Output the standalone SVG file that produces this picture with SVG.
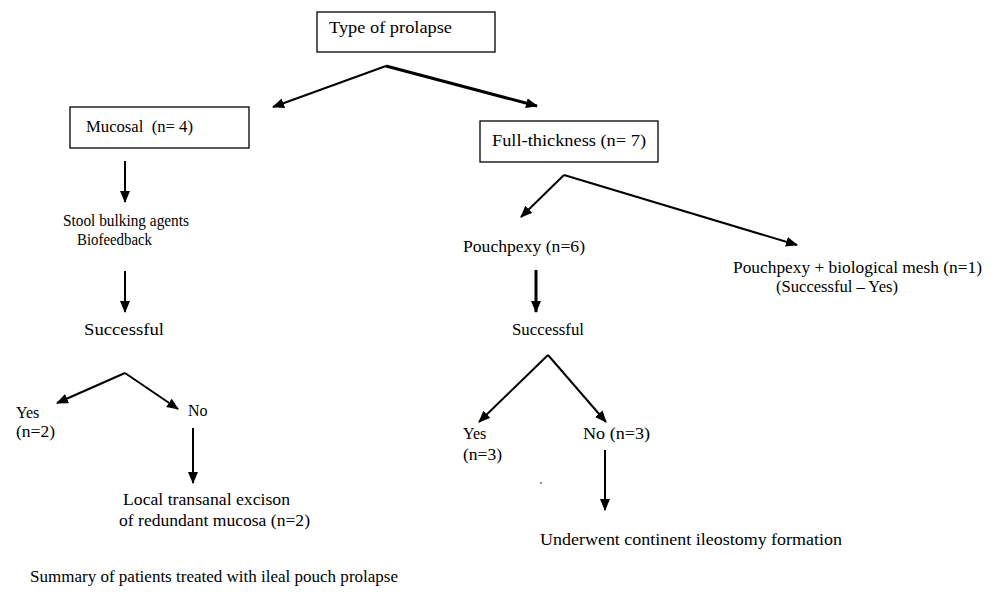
<svg xmlns="http://www.w3.org/2000/svg" width="1005" height="592" viewBox="0 0 1005 592">
<style>
text{font-family:"Liberation Serif","Times New Roman",serif;font-size:16px;fill:#000}
.box{fill:#fff;stroke:#000;stroke-width:1.3}
.c{stroke:#000;stroke-width:2;fill:none;marker-end:url(#ah)}
.ct{stroke:#000;stroke-width:3;fill:none;marker-end:url(#ah)}
</style>
<defs>
<marker id="ah" markerUnits="userSpaceOnUse" markerWidth="14" markerHeight="12" refX="11" refY="5" orient="auto">
<path d="M0,0 L12,5 L0,10 Z" fill="#000"/>
</marker>
</defs>
<rect width="1005" height="592" fill="#fff"/>
<g id="connectors">
<path class="c" d="M386,66 L273,107"/>
<path class="ct" d="M386,66 L537,106"/>
<path class="c" d="M125,161 L125,202"/>
<path class="c" d="M125,271 L125,312"/>
<path class="c" d="M125,373 L57,403"/>
<path class="c" d="M125,373 L178,409"/>
<path class="c" d="M193,428 L193,483"/>
<path class="c" d="M564,175 L521,217"/>
<path class="c" d="M564,175 L797,245"/>
<path class="ct" d="M536,270 L536,312"/>
<path class="c" d="M548,355 L479,422"/>
<path class="c" d="M548,355 L606,422"/>
<path class="c" d="M605,450 L605,510"/>
</g>
<g id="type"><rect class="box" x="317" y="12" width="178" height="40"/><text x="329" y="33" textLength="123" lengthAdjust="spacingAndGlyphs">Type of prolapse</text></g>
<g id="mucosal"><rect class="box" x="70" y="107" width="179" height="41"/><text x="86" y="132" xml:space="preserve" textLength="107" lengthAdjust="spacingAndGlyphs">Mucosal  (n= 4)</text></g>
<g id="full"><rect class="box" x="480" y="121" width="178" height="41"/><text x="492" y="146" textLength="154" lengthAdjust="spacingAndGlyphs">Full-thickness (n= 7)</text></g>
<g id="stool"><text x="63" y="226" textLength="126" lengthAdjust="spacingAndGlyphs">Stool bulking agents</text><text x="77" y="245" textLength="75" lengthAdjust="spacingAndGlyphs">Biofeedback</text></g>
<g id="succ1"><text x="84" y="335" textLength="80" lengthAdjust="spacingAndGlyphs">Successful</text></g>
<g id="yes1"><text x="16" y="418">Yes</text><text x="16" y="437" textLength="39" lengthAdjust="spacingAndGlyphs">(n=2)</text></g>
<g id="no1"><text x="188" y="416">No</text></g>
<g id="local"><text x="123" y="505" textLength="167" lengthAdjust="spacingAndGlyphs">Local transanal excison</text><text x="119" y="526" textLength="191" lengthAdjust="spacingAndGlyphs">of redundant mucosa (n=2)</text></g>
<g id="pouchpexy"><text x="463" y="252" textLength="122" lengthAdjust="spacingAndGlyphs">Pouchpexy (n=6)</text></g>
<g id="mesh"><text x="733" y="273" textLength="249" lengthAdjust="spacingAndGlyphs">Pouchpexy + biological mesh (n=1)</text><text x="776" y="292" textLength="122" lengthAdjust="spacingAndGlyphs">(Successful – Yes)</text></g>
<g id="succ2"><text x="512" y="335" textLength="72" lengthAdjust="spacingAndGlyphs">Successful</text></g>
<g id="yes2"><text x="463" y="439">Yes</text><text x="463" y="460" textLength="39" lengthAdjust="spacingAndGlyphs">(n=3)</text></g>
<g id="no2"><text x="583" y="439" textLength="67" lengthAdjust="spacingAndGlyphs">No (n=3)</text></g>
<g id="ileostomy"><text x="540" y="545" textLength="302" lengthAdjust="spacingAndGlyphs">Underwent continent ileostomy formation</text></g>
<g id="caption"><text x="30" y="582" textLength="368" lengthAdjust="spacingAndGlyphs">Summary of patients treated with ileal pouch prolapse</text></g>
<circle cx="541" cy="483" r="0.8" fill="#000"/>
</svg>
